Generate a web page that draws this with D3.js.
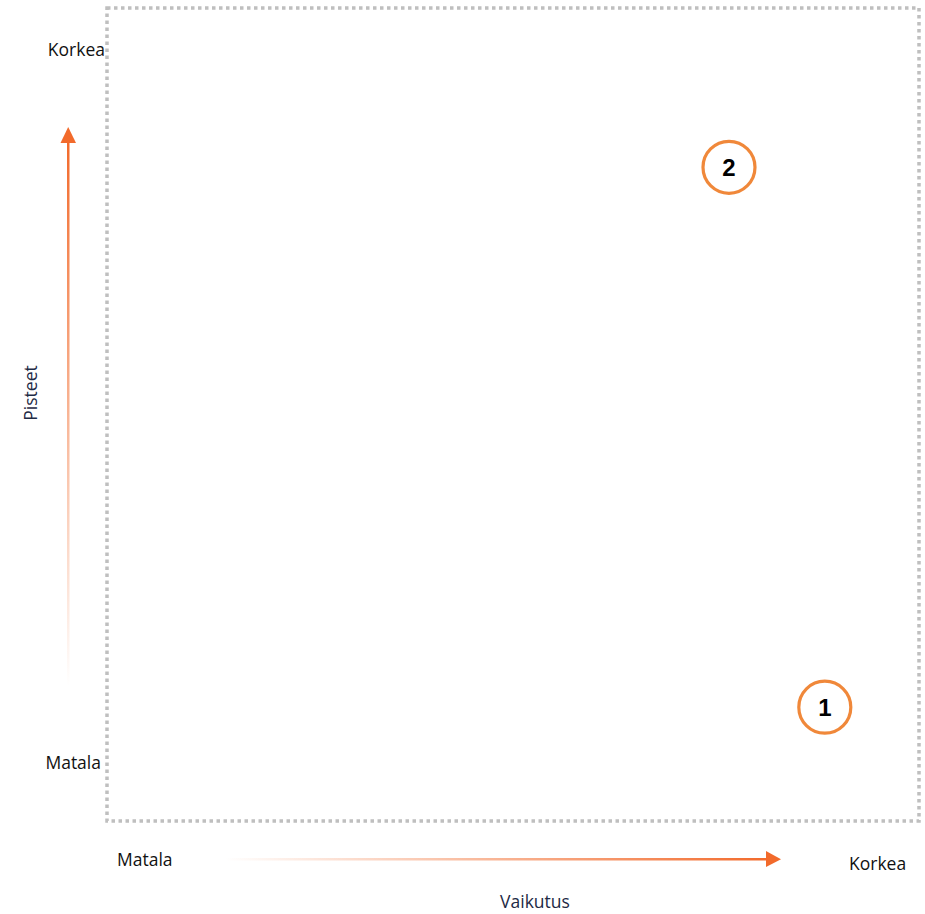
<!DOCTYPE html>
<html><head><meta charset="utf-8">
<script src="https://cdn.jsdelivr.net/npm/d3@7"></script>
<style>body{margin:0;background:#fff}svg{display:block}</style>
</head><body>
<script>
const ids = ["1", "2"];
const impact = [8.84, 7.66];
const score = [1.40, 8.04];
const xLabels = ["Matala", "Korkea"];
const yLabels = ["Matala", "Korkea"];
const xTitle = "Vaikutus";
const yTitle = "Pisteet";

const W = 925, H = 914;
const svg = d3.select("body").append("svg").attr("width", W).attr("height", H);
const box = {l: 107, t: 8, r: 919, b: 821};
const x = d3.scaleLinear().domain([0, 10]).range([box.l, box.r]);
const y = d3.scaleLinear().domain([0, 10]).range([box.b, box.t]);
const font = "'Open Sans', 'Liberation Sans', sans-serif";
const orange = "#f26a2b";
const fs = 17.5;

const defs = svg.append("defs");
const gh = defs.append("linearGradient").attr("id", "gh").attr("x1", "0").attr("x2", "1").attr("y1", "0").attr("y2", "0");
gh.append("stop").attr("offset", "0").attr("stop-color", orange).attr("stop-opacity", 0);
gh.append("stop").attr("offset", "1").attr("stop-color", orange).attr("stop-opacity", 1);
const gv = defs.append("linearGradient").attr("id", "gv").attr("x1", "0").attr("x2", "0").attr("y1", "1").attr("y2", "0");
gv.append("stop").attr("offset", "0").attr("stop-color", orange).attr("stop-opacity", 0);
gv.append("stop").attr("offset", "1").attr("stop-color", orange).attr("stop-opacity", 1);

// dotted frame
svg.append("rect").attr("x", box.l).attr("y", box.t).attr("width", box.r - box.l).attr("height", box.b - box.t)
  .attr("fill", "none").attr("stroke", "#bfbfbf").attr("stroke-width", 3.5).attr("stroke-dasharray", "3.5,3.5");

// horizontal arrow
svg.append("rect").attr("x", 225).attr("y", 858).attr("width", 543).attr("height", 2.5).attr("fill", "url(#gh)");
svg.append("path").attr("d", "M766,851 L781,859.2 L766,867 Z").attr("fill", orange);
// vertical arrow
svg.append("rect").attr("x", 67).attr("y", 140).attr("width", 2.5).attr("height", 546).attr("fill", "url(#gv)");
svg.append("path").attr("d", "M60.5,143 L68.2,127 L76,143 Z").attr("fill", orange);

// labels
svg.append("text").attr("x", 105).attr("y", 56).attr("text-anchor", "end").attr("font-family", font).attr("font-size", fs).attr("fill", "#111").text(yLabels[1]);
svg.append("text").attr("x", 101).attr("y", 769).attr("text-anchor", "end").attr("font-family", font).attr("font-size", fs).attr("fill", "#111").text(yLabels[0]);
svg.append("text").attr("x", 117).attr("y", 866).attr("font-family", font).attr("font-size", fs).attr("fill", "#111").text(xLabels[0]);
svg.append("text").attr("x", 849).attr("y", 870).attr("font-family", font).attr("font-size", fs).attr("fill", "#111").text(xLabels[1]);
svg.append("text").attr("x", 535).attr("y", 908).attr("text-anchor", "middle").attr("font-family", font).attr("font-size", fs).attr("fill", "#1e2a45").text(xTitle);
svg.append("text").attr("transform", "translate(37,393) rotate(-90)").attr("text-anchor", "middle").attr("font-family", font).attr("font-size", fs).attr("fill", "#1e2a45").text(yTitle);

// points
const data = ids.map((id, i) => ({id, x: impact[i], y: score[i]}));
const g = svg.selectAll("g.pt").data(data).join("g").attr("class", "pt")
  .attr("transform", d => `translate(${x(d.x)},${y(d.y)})`);
g.append("circle").attr("r", 26).attr("fill", "#fff").attr("stroke", "#f0883a").attr("stroke-width", 3.2);
g.append("text").attr("text-anchor", "middle").attr("dy", "0.36em").attr("font-family", "'Liberation Sans', Arial, sans-serif")
  .attr("font-weight", "bold").attr("font-size", 24).attr("fill", "#000").text(d => d.id);
</script>
</body></html>
